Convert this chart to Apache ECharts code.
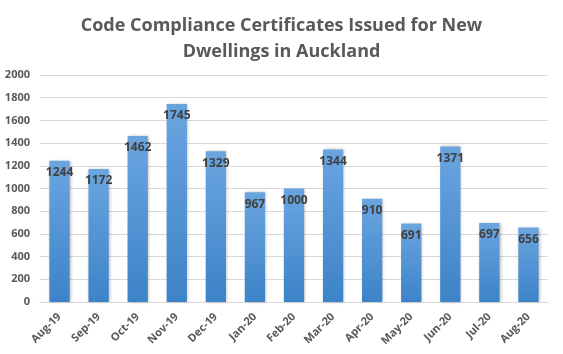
<!DOCTYPE html>
<html>
<head>
<meta charset="utf-8">
<script src="https://cdn.jsdelivr.net/npm/echarts@6/dist/echarts.min.js"></script>
<style>
  html, body { margin: 0; padding: 0; background: #fff; }
  #chart { width: 563px; height: 354px; }
</style>
</head>
<body>
<div id="chart"></div>
<script>
var months = ['Aug-19', 'Sep-19', 'Oct-19', 'Nov-19', 'Dec-19', 'Jan-20', 'Feb-20', 'Mar-20', 'Apr-20', 'May-20', 'Jun-20', 'Jul-20', 'Aug-20'];
var certificates = [1244, 1172, 1462, 1745, 1329, 967, 1000, 1344, 910, 691, 1371, 697, 656];

var chart = echarts.init(document.getElementById('chart'));
chart.setOption({
  animation: false,
  title: {
    text: 'Code Compliance Certificates Issued for New\nDwellings in Auckland',
    left: 'center',
    top: 8,
    textStyle: {
      color: '#595959',
      fontSize: 18,
      fontWeight: 'bold',
      fontFamily: 'Open Sans',
      lineHeight: 26
    }
  },
  grid: {
    left: 40,
    right: 15,
    top: 75,
    bottom: 52
  },
  xAxis: {
    type: 'category',
    data: months,
    axisTick: { show: false },
    axisLine: { lineStyle: { color: '#d9d9d9' } },
    axisLabel: {
      rotate: 45,
      interval: 0,
      color: '#595959',
      fontSize: 11,
      fontWeight: 'bold',
      fontFamily: 'Open Sans',
      margin: 13
    }
  },
  yAxis: {
    type: 'value',
    min: 0,
    max: 2000,
    interval: 200,
    axisLine: { show: false },
    axisTick: { show: false },
    splitLine: { lineStyle: { color: '#d9d9d9' } },
    axisLabel: {
      color: '#595959',
      fontSize: 11,
      fontWeight: 'bold',
      fontFamily: 'Open Sans',
      margin: 10,
      formatter: function (v) { return String(v); }
    }
  },
  series: [{
    type: 'bar',
    data: certificates,
    barWidth: '52%',
    itemStyle: {
      color: new echarts.graphic.LinearGradient(0, 0, 0, 1, [
        { offset: 0, color: '#6aa5e0' },
        { offset: 1, color: '#3d83c8' }
      ]),
      shadowColor: 'rgba(0,0,0,0.25)',
      shadowBlur: 3,
      shadowOffsetX: 1
    },
    label: {
      show: true,
      position: 'insideTop',
      distance: 6,
      color: '#404040',
      fontSize: 12,
      fontWeight: 'bold',
      fontFamily: 'Open Sans'
    }
  }]
});
</script>
</body>
</html>
